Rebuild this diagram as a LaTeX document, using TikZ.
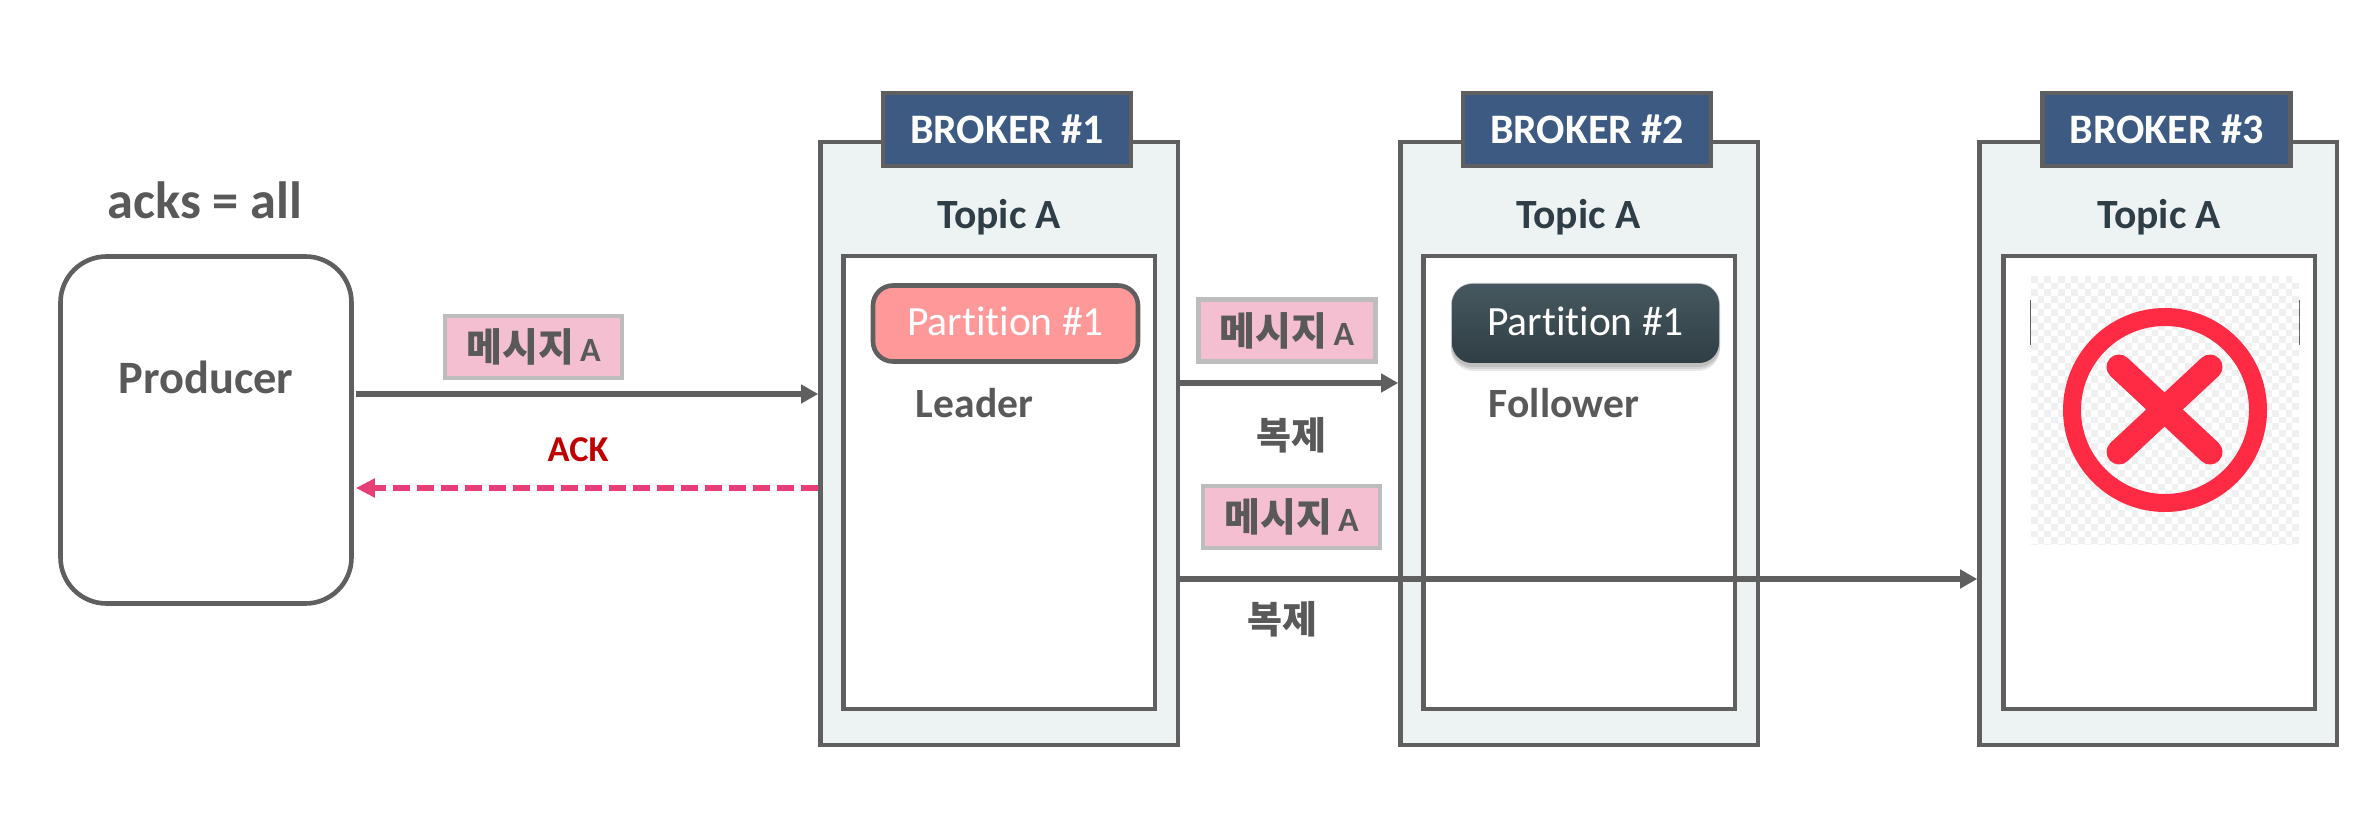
\documentclass[tikz,border=0pt]{standalone}
\usepackage{fontspec}
\setmainfont{Carlito}[Ligatures=NoCommon]
\newfontfamily\krfont{Noto Sans CJK KR}
\usetikzlibrary{arrows.meta,calc}
\definecolor{linegray}{HTML}{5F5F5F}
\definecolor{textgray}{HTML}{595959}
\definecolor{darktext}{HTML}{2F3E46}
\definecolor{brokerfill}{HTML}{EDF3F3}
\definecolor{headerfill}{HTML}{3C5A82}
\definecolor{msgfill}{HTML}{F5BFD2}
\definecolor{msgline}{HTML}{BDBDBD}
\definecolor{ackpink}{HTML}{E83E78}
\definecolor{ackred}{HTML}{C00000}
\definecolor{crossred}{HTML}{FF2B45}
\definecolor{partred}{HTML}{FF9999}
\definecolor{parttop}{HTML}{46585F}
\definecolor{partbot}{HTML}{303E45}
\definecolor{checkgray}{HTML}{F0F0F0}
\newcommand{\msgtext}{{\krfont\bfseries\fontsize{19.5}{22}\selectfont 메시지}\hspace{3pt}{\bfseries\fontsize{17}{20}\selectfont A}}
\tikzset{
  brokerbox/.style={draw=linegray,line width=2.3pt,fill=brokerfill,minimum width=178.75pt,minimum height=301.5pt,inner sep=0pt},
  innerbox/.style={draw=linegray,line width=2.3pt,fill=white,minimum width=155.75pt,minimum height=226.5pt,inner sep=0pt},
  headerbox/.style={draw=linegray,line width=2.3pt,fill=headerfill,text=white,minimum width=124pt,minimum height=36.5pt,inner sep=0pt,font=\bfseries\fontsize{21}{25}\selectfont},
  topiclabel/.style={text=darktext,font=\bfseries\fontsize{20.8}{25}\selectfont,inner sep=0pt},
  partbox/.style={minimum width=132.5pt,minimum height=38pt,inner sep=0pt,rounded corners=10pt,text=white,font=\fontsize{20.8}{25}\selectfont},
  graylabel/.style={text=textgray,font=\bfseries\fontsize{20.8}{25}\selectfont,inner sep=0pt},
  msgbox/.style={draw=msgline,line width=2.4pt,fill=msgfill,text=textgray,minimum width=88.5pt,minimum height=31pt,inner sep=0pt},
  krlabel/.style={text=textgray,font=\krfont\bfseries\fontsize{19}{22}\selectfont,inner sep=0pt},
  flowarrow/.style={draw=linegray,line width=2.9pt,-{Triangle[length=8.5pt,width=9pt]}},
  ackarrow/.style={draw=ackpink,line width=2.7pt,dash pattern=on 8.5pt off 3.5pt,-{Triangle[length=9.5pt,width=9pt]}}
}
\begin{document}
\begin{tikzpicture}[x=0.5pt,y=-0.5pt]
\useasboundingbox (0,0) rectangle (2354,838);
\fill[white] (0,0) rectangle (2354,838);
% producer
\node[draw=linegray,line width=2.3pt,rounded corners=23pt,minimum width=145.5pt,minimum height=173.5pt,fill=white,inner sep=0pt] (producer) at (206,430) {};
\node[graylabel,font=\bfseries\fontsize{23.2}{28}\selectfont] (producertext) at (206,377) {Producer};
\node[graylabel,font=\bfseries\fontsize{26.2}{31}\selectfont] (acks) at (205,200) {acks = all};
% brokers
\node[brokerbox] (b1) at (999.25,443.5) {};
\node[brokerbox] (b2) at (1579.25,443.5) {};
\node[brokerbox] (b3) at (2158.25,443.5) {};
\node[innerbox] (i1) at (999.25,482.5) {};
\node[innerbox] (i2) at (1579.25,482.5) {};
\node[innerbox] (i3) at (2159.25,482.5) {};
\node[headerbox] (h1) at (1007,129.5) {BROKER \#1};
\node[headerbox] (h2) at (1587,129.5) {BROKER \#2};
\node[headerbox] (h3) at (2166.5,129.5) {BROKER \#3};
\node[topiclabel] (t1) at (999,217.5) {Topic A};
\node[topiclabel] (t2) at (1578.5,217.5) {Topic A};
\node[topiclabel] (t3) at (2159,217.5) {Topic A};
% partitions
\node[partbox,draw=linegray,line width=2.3pt,fill=partred] (p1) at (1005.5,323.5) {\raisebox{2.5pt}{Partition \#1}};
\foreach \s in {7,5,3}{
  \fill[black,opacity=0.09,rounded corners=11pt] (1451,283) rectangle (1720,364+\s);
}
\node[partbox,minimum width=133.5pt,minimum height=39.5pt,top color=parttop,bottom color=partbot] (p2) at (1585.5,323.5) {\raisebox{2.5pt}{Partition \#1}};
\node[graylabel] (leader) at (974.5,403) {Leader};
\node[graylabel] (follower) at (1564,403) {Follower};
% failed partition picture
\fill[white] (2022,288) rectangle (2308,360);
\draw[linegray,line width=1pt] (2031,300) -- (2031,345) (2299,300) -- (2299,345);
\begin{scope}
\clip (2031,276) rectangle (2299,545);
\fill[white] (2031,276) rectangle (2299,545);
\foreach \r in {0,...,40}{
  \pgfmathtruncatemacro{\st}{mod(\r,2)}
  \pgfmathtruncatemacro{\sn}{\st+2}
  \foreach \c in {\st,\sn,...,40}{
    \fill[checkgray] (2031+\c*6.7,276+\r*6.7) rectangle ++(6.7,6.7);
  }
}
\end{scope}
\node[circle,draw=crossred,line width=9pt,minimum size=93pt,inner sep=0pt] (fail) at (2165,410) {};
\draw[crossred,line width=12.5pt,line cap=round] (2119,367) -- (2210,452) (2210,367) -- (2119,452);
% messages
\node[msgbox] (m1) at (533.5,347) {\msgtext};
\node[msgbox] (m2) at (1287,330.5) {\msgtext};
\node[msgbox] (m3) at (1291.5,517) {\msgtext};
\node[krlabel] (r1) at (1291,435) {복제};
\node[krlabel] (r2) at (1282,619) {복제};
\node[text=ackred,font=\bfseries\fontsize{18.2}{22}\selectfont,inner sep=0pt] (ack) at (578,450) {ACK};
% connectors
\coordinate (ya) at (0,394);
\coordinate (yb) at (0,488);
\coordinate (yc) at (0,383);
\coordinate (yd) at (0,579);
\draw[flowarrow] ([xshift=1pt]producer.east |- ya) -- (b1.west |- ya);
\draw[ackarrow] (b1.west |- yb) -- ([xshift=1pt]producer.east |- yb);
\draw[flowarrow] (b1.east |- yc) -- (b2.west |- yc);
\draw[flowarrow] (b1.east |- yd) -- (b3.west |- yd);
\end{tikzpicture}
\end{document}
